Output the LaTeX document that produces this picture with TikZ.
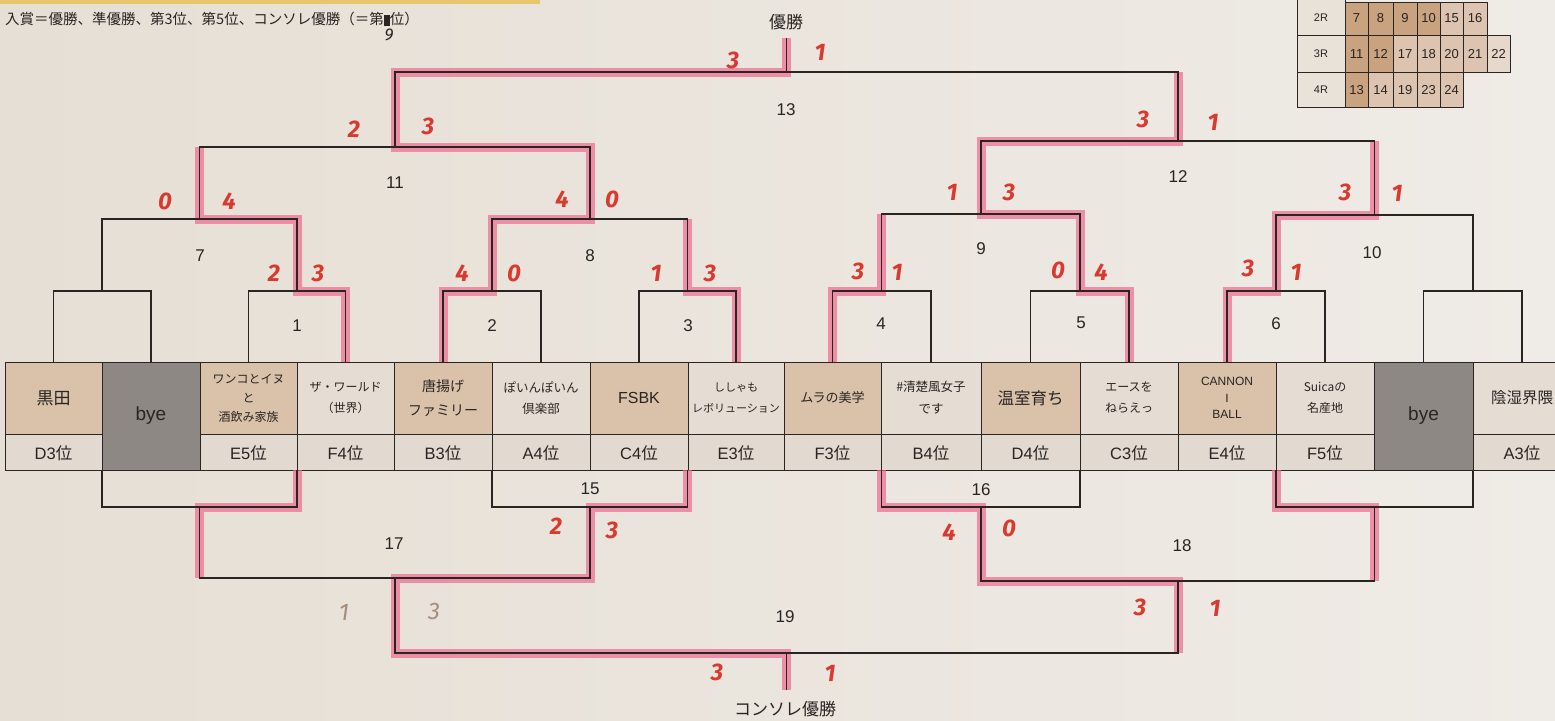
\documentclass[tikz,border=0pt]{standalone}
\usepackage{fontspec}
\setmainfont{Liberation Sans}
\newfontfamily\jp{Noto Sans CJK JP}
\newfontfamily\hand{Fira Sans}
\usetikzlibrary{calc}
\definecolor{paperL}{HTML}{E6DFD5}
\definecolor{paperR}{HTML}{EFEBE6}
\definecolor{tanc}{HTML}{D9C1AA}
\definecolor{lightc}{HTML}{E5DDD3}
\definecolor{rankc}{HTML}{E2DAD0}
\definecolor{byec}{HTML}{8D8883}
\definecolor{ink}{HTML}{2A2522}
\definecolor{marker}{HTML}{EE6A8E}
\definecolor{pen}{HTML}{D93A2F}
\definecolor{pencil}{HTML}{A88C7A}
\definecolor{tdark}{HTML}{C9A27F}
\definecolor{tlight}{HTML}{DCC4B0}
\definecolor{tpale}{HTML}{E6D8CB}
\definecolor{tlab}{HTML}{E9E2D9}
\definecolor{yel}{HTML}{E8C66B}
\newcommand\ii{{\jp 位}}
\newcommand\teamcell[7]{%
  \path[boxline, fill=#4] (#2,362) rectangle (#3,434);
  \path[boxline, fill=rankc] (#2,434) rectangle (#3,470);
  \node[align=center, inner sep=0, text=ink, font=#5] (#1) at ({(#2+#3)/2},398) {#6};
  \node[inner sep=0, text=ink, font=\fontsize{16.5}{16.5}\selectfont] (#1r) at ({(#2+#3)/2},453) {#7};
  \coordinate (#1top) at ({(#2+#3)/2},362);
}
\newcommand\byecell[3]{%
  \path[boxline, fill=byec] (#2,362) rectangle (#3,470);
  \node[inner sep=0, text=ink, font=\fontsize{19}{19}\selectfont] (#1) at ({(#2+#3)/2},416) {bye};
  \coordinate (#1top) at ({(#2+#3)/2},362);
}
\tikzset{
  bk/.style={draw=ink, line width=1.1pt, line join=miter},
  boxline/.style={draw=ink, line width=1pt},
  hl/.style={draw=marker, line width=9pt, opacity=0.7, line join=miter, line cap=butt},
  num/.style={inner sep=0, text=ink, font=\fontsize{17}{17}\selectfont},
  sc/.style={inner sep=0, text=pen, font=\hand\bfseries\itshape\fontsize{24}{24}\selectfont},
  pc/.style={inner sep=0, text=pencil, font=\hand\itshape\fontsize{24}{24}\selectfont},
  tnum/.style={inner sep=0, text=ink, font=\fontsize{13}{13}\selectfont},
  tlabel/.style={inner sep=0, text=ink, font=\fontsize{11}{11}\selectfont},
}
\begin{document}
\begin{tikzpicture}[x=1pt,y=-1pt]
\useasboundingbox (0,0) rectangle (1555,720);
\clip (0,0) rectangle (1555,720);
\shade[left color=paperL, right color=paperR] (0,0) rectangle (1555,720);
\fill[yel] (0,0) rectangle (540,4);

% note top-left
\node[anchor=west, inner sep=0, text=ink, font=\jp\fontsize{14.5}{14.5}\selectfont] (note) at (5,19)
  {入賞＝優勝、準優勝、第3位、第5位、コンソレ優勝（＝第\rule[-1pt]{6pt}{11pt}位）};
\node[inner sep=0, text=ink, font=\hand\itshape\fontsize{17}{17}\selectfont] (nine) at (389,35) {9};

% table top-right
\path[boxline, fill=tlab] (1297,-5) rectangle (1345,35);
\path[boxline, fill=tlab] (1297,35) rectangle (1345,72);
\path[boxline, fill=tlab] (1297,72) rectangle (1345,107);
\node[tlabel] (r2) at (1321,18) {2R};
\node[tlabel] (r3) at (1321,54) {3R};
\node[tlabel] (r4) at (1321,90) {4R};
\foreach \a/\b/\n/\c in {1345/1368/7/tdark,1368/1393/8/tdark,1393/1417/9/tdark,1417/1440/10/tdark,1440/1463/15/tlight,1463/1487/16/tlight}
  {\path[boxline, fill=\c] (\a,2) rectangle (\b,35); \node[tnum] (c2-\n) at ({(\a+\b)/2},18) {\n};}
\foreach \a/\b/\n/\c in {1345/1368/11/tdark,1368/1393/12/tdark,1393/1417/17/tlight,1417/1440/18/tlight,1440/1463/20/tlight,1463/1487/21/tlight,1487/1510/22/tpale}
  {\path[boxline, fill=\c] (\a,35) rectangle (\b,72); \node[tnum] (c3-\n) at ({(\a+\b)/2},54) {\n};}
\foreach \a/\b/\n/\c in {1345/1368/13/tdark,1368/1393/14/tlight,1393/1417/19/tlight,1417/1440/23/tlight,1440/1463/24/tlight}
  {\path[boxline, fill=\c] (\a,72) rectangle (\b,107); \node[tnum] (c4-\n) at ({(\a+\b)/2},90) {\n};}

% teams
\teamcell{t1}{5}{102}{tanc}{\jp\fontsize{17}{17}\selectfont}{黒田}{D3\ii}
\byecell{t2}{102}{200}
\teamcell{t3}{200}{297}{tanc}{\jp\fontsize{12}{19}\selectfont}{ワンコとイヌ\\と\\酒飲み家族}{E5\ii}
\teamcell{t4}{297}{394}{lightc}{\jp\fontsize{12}{21}\selectfont}{ザ・ワールド\\（世界）}{F4\ii}
\teamcell{t5}{394}{492}{tanc}{\jp\fontsize{14}{24}\selectfont}{唐揚げ\\ファミリー}{B3\ii}
\teamcell{t6}{492}{590}{lightc}{\jp\fontsize{12.5}{21}\selectfont}{ぽいんぽいん\\倶楽部}{A4\ii}
\teamcell{t7}{590}{688}{tanc}{\fontsize{16}{16}\selectfont}{FSBK}{C4\ii}
\teamcell{t8}{688}{784}{lightc}{\jp\fontsize{11}{21}\selectfont}{ししゃも\\レボリューション}{E3\ii}
\teamcell{t9}{784}{881}{tanc}{\jp\fontsize{13}{13}\selectfont}{ムラの美学}{F3\ii}
\teamcell{t10}{881}{981}{lightc}{\jp\fontsize{12.5}{22}\selectfont}{\#清楚風女子\\です}{B4\ii}
\teamcell{t11}{981}{1080}{tanc}{\jp\fontsize{16.5}{16.5}\selectfont}{温室育ち}{D4\ii}
\teamcell{t12}{1080}{1178}{lightc}{\jp\fontsize{12}{21}\selectfont}{エースを\\ねらえっ}{C3\ii}
\teamcell{t13}{1178}{1276}{tanc}{\fontsize{12}{16.5}\selectfont}{CANNON\\I\\BALL}{E4\ii}
\teamcell{t14}{1276}{1374}{lightc}{\jp\fontsize{12}{21}\selectfont}{Suicaの\\名産地}{F5\ii}
\byecell{t15}{1374}{1473}
\teamcell{t16}{1473}{1571}{lightc}{\jp\fontsize{15.5}{15.5}\selectfont}{陰湿界隈}{A3\ii}

% match points
\coordinate (P0) at (102,291);
\coordinate (M1) at (297,291);
\coordinate (M2) at (492,291);
\coordinate (M3) at (687.5,291);
\coordinate (M4) at (881.7,291);
\coordinate (M5) at (1080,291);
\coordinate (M6) at (1276,291);
\coordinate (P7) at (1473,291);
\coordinate (M7) at (199.5,219);
\coordinate (M8) at (590,219);
\coordinate (M9) at (981,214);
\coordinate (M10) at (1374.5,215);
\coordinate (M11) at (395,147);
\coordinate (M12) at (1178,141);
\coordinate (M13) at (786.5,72);
\coordinate (W) at (786.5,38);
\coordinate (B0) at (102,470);
\coordinate (B1) at (297,470);
\coordinate (B2) at (492,470);
\coordinate (B3) at (687.5,470);
\coordinate (B4) at (881.7,470);
\coordinate (B5) at (1080,470);
\coordinate (B6) at (1276,470);
\coordinate (B7) at (1473,470);
\coordinate (C0) at (199.5,507);
\coordinate (M15) at (590,507);
\coordinate (M16) at (981,507);
\coordinate (C7) at (1374.5,507);
\coordinate (M17) at (395,578);
\coordinate (M18) at (1178,581);
\coordinate (M19) at (786.5,653);
\coordinate (CW) at (786.5,690);

% marker highlights (under the ink)
\draw[hl] (t4top) |- (M1) |- (M7) -- (M7 |- M11);
\draw[hl] (t5top) |- (M2) |- (M8) |- (M11) |- (M13) -- (W);
\draw[hl] (t8top) |- (M3) -- (M3 |- M8);
\draw[hl] (t9top) |- (M4) -- (M4 |- M9);
\draw[hl] (t12top) |- (M5) |- (M9) |- (M12) -- (M12 |- M13);
\draw[hl] (t13top) |- (M6) |- (M10) -- (M10 |- M12);
\draw[hl] (B1) |- (C0) -- (C0 |- M17);
\draw[hl] (B3) |- (M15) |- (M17) |- (M19) -- (CW);
\draw[hl] (B4) |- (M16) |- (M18) -- (M18 |- M19);
\draw[hl] (B6) |- (C7) -- (C7 |- M18);

% winners bracket
\draw[bk] (t1top) |- (P0) -| (t2top);
\draw[bk] (t3top) |- (M1) -| (t4top);
\draw[bk] (t5top) |- (M2) -| (t6top);
\draw[bk] (t7top) |- (M3) -| (t8top);
\draw[bk] (t9top) |- (M4) -| (t10top);
\draw[bk] (t11top) |- (M5) -| (t12top);
\draw[bk] (t13top) |- (M6) -| (t14top);
\draw[bk] (t15top) |- (P7) -| (t16top);
\draw[bk] (P0) |- (M7) -| (M1);
\draw[bk] (M2) |- (M8) -| (M3);
\draw[bk] (M4) |- (M9) -| (M5);
\draw[bk] (M6) |- (M10) -| (P7);
\draw[bk] (M7) |- (M11) -| (M8);
\draw[bk] (M9) |- (M12) -| (M10);
\draw[bk] (M11) |- (M13) -| (M12);
\draw[bk] (M13) -- (W);

% consolation bracket
\draw[bk] (B0) |- (C0) -| (B1);
\draw[bk] (B2) |- (M15) -| (B3);
\draw[bk] (B4) |- (M16) -| (B5);
\draw[bk] (B6) |- (C7) -| (B7);
\draw[bk] (C0) |- (M17) -| (M15);
\draw[bk] (M16) |- (M18) -| (C7);
\draw[bk] (M17) |- (M19) -| (M18);
\draw[bk] (M19) -- (CW);

% match numbers
\node[num] (n1) at (297,326) {1};
\node[num] (n2) at (492,326) {2};
\node[num] (n3) at (688,326) {3};
\node[num] (n4) at (881,324) {4};
\node[num] (n5) at (1081,323) {5};
\node[num] (n6) at (1276,324) {6};
\node[num] (n7) at (200,256) {7};
\node[num] (n8) at (590,256) {8};
\node[num] (n9) at (981,249) {9};
\node[num] (n10) at (1372,253) {10};
\node[num] (n11) at (395,183) {11};
\node[num] (n12) at (1178,177) {12};
\node[num] (n13) at (786,110) {13};
\node[num] (n15) at (590,489) {15};
\node[num] (n16) at (981,490) {16};
\node[num] (n17) at (394,544) {17};
\node[num] (n18) at (1182,546) {18};
\node[num] (n19) at (785,617) {19};
\node[inner sep=0, text=ink, font=\jp\fontsize{17}{17}\selectfont] (win) at (786,22) {優勝};
\node[inner sep=0, text=ink, font=\jp\fontsize{17}{17}\selectfont] (cwin) at (785,709) {コンソレ優勝};

% scores
\node[sc] (s1a) at (274,273) {2};  \node[sc] (s1b) at (318,273) {3};
\node[sc] (s2a) at (462,273) {4};  \node[sc] (s2b) at (514,273) {0};
\node[sc] (s3a) at (656,273) {1};  \node[sc] (s3b) at (710,273) {3};
\node[sc] (s4a) at (858,271) {3};  \node[sc] (s4b) at (897,272) {1};
\node[sc] (s5a) at (1058,270) {0}; \node[sc] (s5b) at (1101,272) {4};
\node[sc] (s6a) at (1248,268) {3}; \node[sc] (s6b) at (1296,272) {1};
\node[sc] (s7a) at (165,201) {0};  \node[sc] (s7b) at (229,201) {4};
\node[sc] (s8a) at (562,199) {4};  \node[sc] (s8b) at (612,199) {0};
\node[sc] (s9a) at (952,192) {1};  \node[sc] (s9b) at (1009,192) {3};
\node[sc] (s10a) at (1345,192) {3};\node[sc] (s10b) at (1397,193) {1};
\node[sc] (s11a) at (354,129) {2}; \node[sc] (s11b) at (428,126) {3};
\node[sc] (s12a) at (1143,119) {3};\node[sc] (s12b) at (1213,122) {1};
\node[sc] (s13a) at (733,60) {3};  \node[sc] (s13b) at (820,52) {1};
\node[sc] (s15a) at (556,526) {2}; \node[sc] (s15b) at (612,530) {3};
\node[sc] (s16a) at (949,532) {4}; \node[sc] (s16b) at (1009,528) {0};
\node[pc] (s17a) at (344,612) {1}; \node[pc] (s17b) at (434,611) {3};
\node[sc] (s18a) at (1140,607) {3};\node[sc] (s18b) at (1215,608) {1};
\node[sc] (s19a) at (717,672) {3}; \node[sc] (s19b) at (830,673) {1};
\end{tikzpicture}
\end{document}
